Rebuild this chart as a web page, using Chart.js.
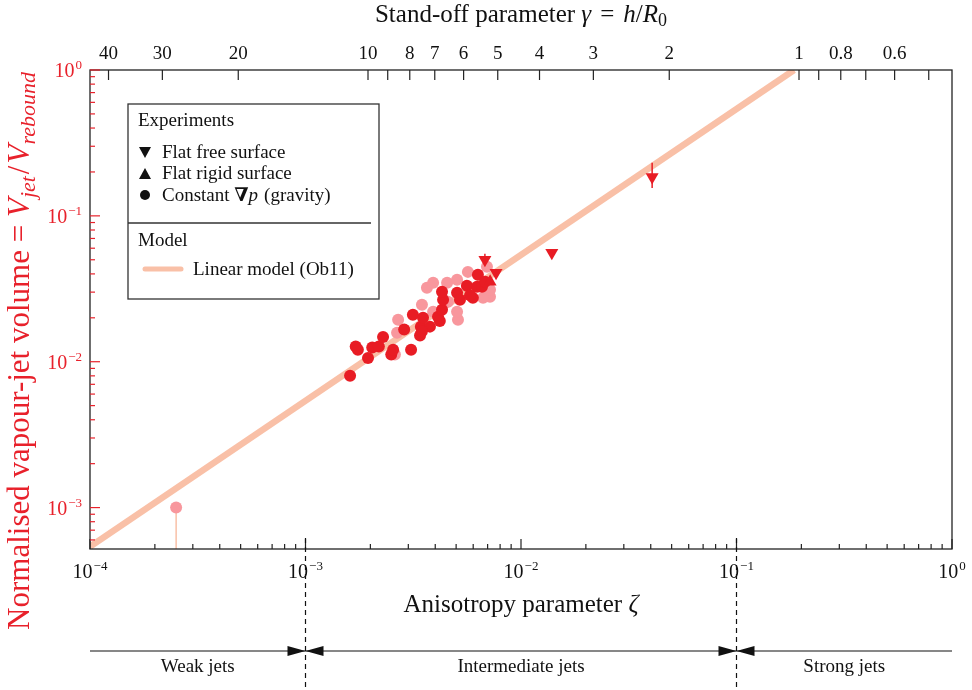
<!DOCTYPE html>
<html>
<head>
<meta charset="utf-8">
<script src="https://cdn.jsdelivr.net/npm/chart.js@4.4.1/dist/chart.umd.min.js"></script>
<style>
  html, body { margin: 0; padding: 0; background: #fff; }
</style>
</head>
<body>
<canvas id="chart" width="972" height="690"></canvas>
<script>
"use strict";

// --- data ---
// constant pressure gradient (gravity), darker series
var gravDarkX = [1.61e-3, 1.71e-3, 1.75e-3, 1.95e-3, 2.04e-3, 2.19e-3, 2.29e-3, 2.50e-3, 2.55e-3, 3.09e-3,
                 2.87e-3, 3.40e-3, 3.43e-3, 3.15e-3, 3.51e-3, 3.78e-3, 4.12e-3, 4.30e-3, 4.35e-3, 4.30e-3,
                 5.05e-3, 5.21e-3, 5.61e-3, 5.98e-3, 6.25e-3, 6.31e-3, 6.59e-3, 6.81e-3, 4.20e-3, 3.47e-3, 5.80e-3];
var gravDarkY = [8.0e-3, 1.27e-2, 1.21e-2, 1.06e-2, 1.25e-2, 1.27e-2, 1.48e-2, 1.12e-2, 1.21e-2, 1.21e-2,
                 1.66e-2, 1.51e-2, 1.74e-2, 2.10e-2, 2.00e-2, 1.74e-2, 2.03e-2, 2.27e-2, 2.66e-2, 3.02e-2,
                 2.97e-2, 2.66e-2, 3.32e-2, 2.74e-2, 3.27e-2, 3.94e-2, 3.27e-2, 3.53e-2, 1.90e-2, 1.62e-2, 2.85e-2];
// constant pressure gradient (gravity), lighter series
var gravLightX = [3.66e-3, 3.47e-3, 2.69e-3, 2.66e-3, 3.91e-3, 4.54e-3, 5.05e-3, 5.10e-3, 5.67e-3, 4.58e-3,
                  6.95e-3, 7.18e-3, 6.67e-3, 2.60e-3, 5.05e-3, 7.18e-3, 3.91e-3, 2.51e-4];
var gravLightY = [3.21e-2, 2.46e-2, 1.94e-2, 1.58e-2, 2.20e-2, 3.48e-2, 3.65e-2, 1.94e-2, 4.13e-2, 2.58e-2,
                  4.48e-2, 2.79e-2, 2.74e-2, 1.12e-2, 2.20e-2, 3.11e-2, 3.48e-2, 1.0e-3];
var gravLightLo = [null, null, null, null, null, null, null, null, null, null,
                   null, null, null, null, null, null, null, 1e-4];
// flat free surface
var freeX  = [6.8e-3, 7.66e-3, 1.39e-2, 4.06e-2];
var freeY  = [5.0e-2, 4.07e-2, 5.58e-2, 1.85e-1];
var freeLo = [4.6e-2, 3.8e-2, 5.2e-2, 1.55e-1];
var freeHi = [5.5e-2, 4.3e-2, 5.9e-2, 2.31e-1];
// flat rigid surface
var rigidX = [7.19e-3];
var rigidY = [3.53e-2];
// linear model (Ob11)
var modelX = [1e-4, 0.185];
var modelY = [5.4e-4, 1.0];

// top axis: stand-off parameter gamma, zeta = 0.195 / gamma^2
var gammaTicks  = [40, 30, 20, 10, 9, 8, 7, 6, 5, 4, 3, 2, 1, 0.9, 0.8, 0.7, 0.6, 0.5];
var gammaLabels = [40, 30, 20, 10, 8, 7, 6, 5, 4, 3, 2, 1, 0.8, 0.6];
var zetaBounds  = [1e-3, 1e-1];
var regionNames = ["Weak jets", "Intermediate jets", "Strong jets"];

var RED = "#e8212b";
var DARK = "#e81c24";
var LIGHT = "#f8979d";
var PEACH = "#f9c0a7";
var SERIF = '"Liberation Serif", "DejaVu Serif", serif';

function pts(xs, ys) {
    var out = [];
    for (var i = 0; i < xs.length; i++) out.push({x: xs[i], y: ys[i]});
    return out;
}

function drawRich(ctx, segs, x, y, align) {
    var w = 0;
    for (var i = 0; i < segs.length; i++) {
        ctx.font = segs[i].f;
        segs[i].w = ctx.measureText(segs[i].t).width;
        w += segs[i].w + (segs[i].gap || 0);
    }
    var x0 = align === "center" ? x - w / 2 : (align === "right" ? x - w : x);
    ctx.textAlign = "left";
    ctx.textBaseline = "alphabetic";
    for (var j = 0; j < segs.length; j++) {
        ctx.font = segs[j].f;
        ctx.fillText(segs[j].t, x0, y + (segs[j].dy || 0));
        x0 += segs[j].w + (segs[j].gap || 0);
    }
    return w;
}

function pow10(ctx, e, x, y, align) {
    var ex = e < 0 ? "\u2212" + (-e) : String(e);
    return drawRich(ctx, [
        {t: "10", f: "20px " + SERIF, gap: 1},
        {t: ex, f: "13px " + SERIF, dy: -8}
    ], x, y, align);
}

var decorPlugin = {
    id: "decor",
    beforeDatasetsDraw: function (chart) {
        var ctx = chart.ctx, ca = chart.chartArea, sx = chart.scales.x, sy = chart.scales.y;
        ctx.save();
        ctx.beginPath();
        ctx.rect(ca.left, ca.top, ca.right - ca.left, ca.bottom - ca.top);
        ctx.clip();
        // lower bound of the outlier
        ctx.strokeStyle = PEACH;
        ctx.lineWidth = 1.5;
        for (var i = 0; i < gravLightX.length; i++) {
            if (gravLightLo[i] === null) continue;
            var px = sx.getPixelForValue(gravLightX[i]);
            ctx.beginPath();
            ctx.moveTo(px, sy.getPixelForValue(gravLightY[i]));
            ctx.lineTo(px, sy.getPixelForValue(gravLightLo[i]));
            ctx.stroke();
        }
        ctx.restore();
    },
    afterDatasetsDraw: function (chart) {
        var ctx = chart.ctx, sx = chart.scales.x, sy = chart.scales.y;
        ctx.save();
        ctx.strokeStyle = DARK;
        ctx.lineWidth = 1.5;
        for (var i = 0; i < freeX.length; i++) {
            var px = sx.getPixelForValue(freeX[i]);
            ctx.beginPath();
            ctx.moveTo(px, sy.getPixelForValue(freeLo[i]));
            ctx.lineTo(px, sy.getPixelForValue(freeHi[i]));
            ctx.stroke();
        }
        ctx.restore();
    },
    afterDraw: function (chart) {
        var ctx = chart.ctx, ca = chart.chartArea;
        var sx = chart.scales.x, sx2 = chart.scales.x2, sy = chart.scales.y;
        var e, m, v, px, py, i;
        ctx.save();

        // frame
        ctx.strokeStyle = "#222";
        ctx.lineWidth = 1.3;
        ctx.strokeRect(ca.left, ca.top, ca.right - ca.left, ca.bottom - ca.top);

        // bottom ticks (inward)
        ctx.lineWidth = 1.2;
        ctx.fillStyle = "#111";
        for (e = -4; e <= 0; e++) {
            px = sx.getPixelForValue(Math.pow(10, e));
            ctx.beginPath(); ctx.moveTo(px, ca.bottom); ctx.lineTo(px, ca.bottom - 10); ctx.stroke();
            pow10(ctx, e, px, 578, "center");
            if (e === 0) break;
            for (m = 2; m <= 9; m++) {
                px = sx.getPixelForValue(m * Math.pow(10, e));
                ctx.beginPath(); ctx.moveTo(px, ca.bottom); ctx.lineTo(px, ca.bottom - 5); ctx.stroke();
            }
        }

        // top ticks: gamma
        ctx.font = "19px " + SERIF;
        ctx.textAlign = "center";
        ctx.textBaseline = "alphabetic";
        for (i = 0; i < gammaTicks.length; i++) {
            v = 0.195 / (gammaTicks[i] * gammaTicks[i]);
            px = sx2.getPixelForValue(v);
            ctx.beginPath(); ctx.moveTo(px, ca.top); ctx.lineTo(px, ca.top + 10); ctx.stroke();
            if (gammaLabels.indexOf(gammaTicks[i]) >= 0) ctx.fillText(String(gammaTicks[i]), px, 59);
        }

        // left ticks (red)
        ctx.strokeStyle = RED;
        ctx.fillStyle = RED;
        for (e = -4; e <= 0; e++) {
            v = Math.pow(10, e);
            if (v >= sy.min) {
                py = sy.getPixelForValue(v);
                ctx.beginPath(); ctx.moveTo(ca.left, py); ctx.lineTo(ca.left + 10, py); ctx.stroke();
                pow10(ctx, e, 82, py + 7, "right");
            }
            if (e === 0) break;
            for (m = 2; m <= 9; m++) {
                v = m * Math.pow(10, e);
                if (v < sy.min) continue;
                py = sy.getPixelForValue(v);
                ctx.beginPath(); ctx.moveTo(ca.left, py); ctx.lineTo(ca.left + 5, py); ctx.stroke();
            }
        }

        // y title
        ctx.save();
        ctx.translate(29, 351);
        ctx.rotate(-Math.PI / 2);
        drawRich(ctx, [
            {t: "Normalised vapour-jet volume = ", f: "31px " + SERIF},
            {t: "V", f: "italic 31px " + SERIF},
            {t: "jet", f: "italic 22px " + SERIF, dy: 6, gap: 2},
            {t: "/", f: "31px " + SERIF, gap: 2},
            {t: "V", f: "italic 31px " + SERIF},
            {t: "rebound", f: "italic 22px " + SERIF, dy: 6}
        ], 0, 0, "center");
        ctx.restore();

        // top and bottom titles
        ctx.fillStyle = "#111";
        var cx = (ca.left + ca.right) / 2;
        drawRich(ctx, [
            {t: "Stand-off parameter ", f: "25px " + SERIF},
            {t: "\u03b3", f: "italic 25px " + SERIF, gap: 9},
            {t: "=", f: "25px " + SERIF, gap: 9},
            {t: "h", f: "italic 25px " + SERIF},
            {t: "/", f: "25px " + SERIF},
            {t: "R", f: "italic 25px " + SERIF},
            {t: "0", f: "18px " + SERIF, dy: 4}
        ], cx, 22, "center");
        drawRich(ctx, [
            {t: "Anisotropy parameter ", f: "25px " + SERIF},
            {t: "\u03b6", f: "italic 25px " + SERIF}
        ], cx, 612, "center");

        // legend box
        ctx.strokeStyle = "#333";
        ctx.lineWidth = 1.3;
        ctx.fillStyle = "#fff";
        ctx.fillRect(128, 104, 251, 195);
        ctx.strokeRect(128, 104, 251, 195);
        ctx.beginPath(); ctx.moveTo(128, 223); ctx.lineTo(371, 223); ctx.stroke();
        ctx.fillStyle = "#111";
        ctx.font = "19px " + SERIF;
        ctx.textAlign = "left";
        ctx.fillText("Experiments", 138, 126);
        ctx.fillText("Flat free surface", 162, 158);
        ctx.fillText("Flat rigid surface", 162, 179);
        drawRich(ctx, [
            {t: "Constant ", f: "19px " + SERIF},
            {t: "\u2207", f: "bold 19px " + SERIF},
            {t: "p", f: "italic 19px " + SERIF, gap: 6},
            {t: "(gravity)", f: "19px " + SERIF}
        ], 162, 201, "left");
        ctx.fillText("Model", 138, 246);
        ctx.fillText("Linear model (Ob11)", 193, 275);
        // legend markers
        ctx.beginPath(); ctx.moveTo(139, 147); ctx.lineTo(151, 147); ctx.lineTo(145, 158); ctx.closePath(); ctx.fill();
        ctx.beginPath(); ctx.moveTo(139, 179); ctx.lineTo(151, 179); ctx.lineTo(145, 168); ctx.closePath(); ctx.fill();
        ctx.beginPath(); ctx.arc(145, 195, 5, 0, Math.PI * 2); ctx.fill();
        ctx.strokeStyle = PEACH;
        ctx.lineWidth = 5;
        ctx.lineCap = "round";
        ctx.beginPath(); ctx.moveTo(145, 269); ctx.lineTo(181, 269); ctx.stroke();
        ctx.lineCap = "butt";

        // regime annotation under the axis
        var b1 = sx.getPixelForValue(zetaBounds[0]);
        var b2 = sx.getPixelForValue(zetaBounds[1]);
        ctx.strokeStyle = "#111";
        ctx.lineWidth = 1.2;
        ctx.beginPath(); ctx.moveTo(ca.left, 651); ctx.lineTo(ca.right, 651); ctx.stroke();
        ctx.setLineDash([5, 4]);
        [b1, b2].forEach(function (b) {
            ctx.beginPath(); ctx.moveTo(b, ca.bottom - 11); ctx.lineTo(b, 690); ctx.stroke();
        });
        ctx.setLineDash([]);
        ctx.fillStyle = "#111";
        [b1, b2].forEach(function (b) {
            ctx.beginPath(); ctx.moveTo(b, 651); ctx.lineTo(b - 18, 646); ctx.lineTo(b - 18, 656); ctx.closePath(); ctx.fill();
            ctx.beginPath(); ctx.moveTo(b, 651); ctx.lineTo(b + 18, 646); ctx.lineTo(b + 18, 656); ctx.closePath(); ctx.fill();
        });
        ctx.font = "19px " + SERIF;
        ctx.textAlign = "center";
        ctx.fillText(regionNames[0], (ca.left + b1) / 2, 672);
        ctx.fillText(regionNames[1], (b1 + b2) / 2, 672);
        ctx.fillText(regionNames[2], (b2 + ca.right) / 2, 672);

        ctx.restore();
    }
};

var ctx0 = document.getElementById("chart");
var myChart = new Chart(ctx0, {
    type: "scatter",
    data: {
        datasets: [
            {label: "Flat free surface", data: pts(freeX, freeY), pointStyle: "triangle", rotation: 180,
             pointRadius: 7.5, backgroundColor: DARK, borderWidth: 0, order: 0},
            {label: "Flat rigid surface", data: pts(rigidX, rigidY), pointStyle: "triangle",
             pointRadius: 7.5, backgroundColor: DARK, borderWidth: 0, order: 1},
            {label: "Gravity", data: pts(gravDarkX, gravDarkY), pointStyle: "circle",
             pointRadius: 6, backgroundColor: DARK, borderWidth: 0, order: 2},
            {label: "Gravity (light)", data: pts(gravLightX, gravLightY), pointStyle: "circle",
             pointRadius: 6, backgroundColor: LIGHT, borderWidth: 0, order: 3},
            {label: "Linear model (Ob11)", type: "line", data: pts(modelX, modelY), showLine: true,
             borderColor: PEACH, borderWidth: 6.5, pointRadius: 0, fill: false, order: 4}
        ]
    },
    options: {
        responsive: false,
        animation: false,
        events: [],
        layout: {padding: {top: 0, right: 20, bottom: 0, left: 0}},
        plugins: {legend: {display: false}, tooltip: {enabled: false}},
        scales: {
            x: {type: "logarithmic", position: "bottom", min: 1e-4, max: 1,
                ticks: {display: false}, grid: {display: false}, border: {display: false},
                afterFit: function (s) { s.height = 141; }},
            x2: {type: "logarithmic", position: "top", min: 1e-4, max: 1,
                ticks: {display: false}, grid: {display: false}, border: {display: false},
                afterFit: function (s) { s.height = 70; }},
            y: {type: "logarithmic", position: "left", min: 5.2e-4, max: 1,
                ticks: {display: false}, grid: {display: false}, border: {display: false},
                afterFit: function (s) { s.width = 90; }}
        }
    },
    plugins: [decorPlugin]
});
</script>
</body>
</html>
